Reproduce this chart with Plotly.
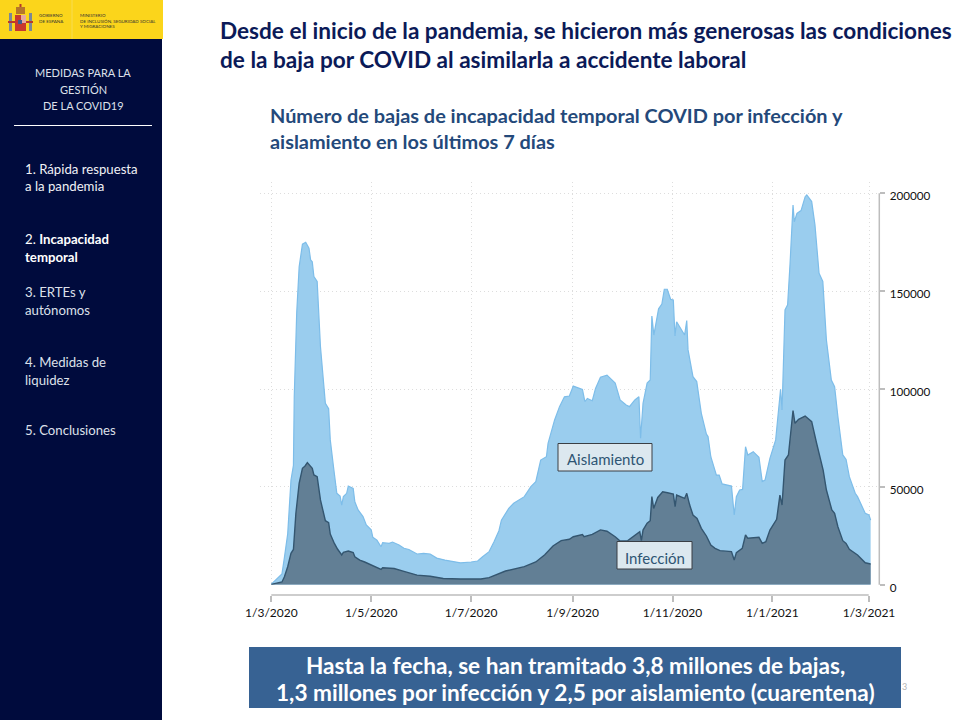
import pandas as pd
import plotly.graph_objects as go

START = pd.Timestamp("2020-03-01")

# days since 1 Mar 2020 and weekly sick-leave counts
aisl_days = [0,3,6.5,8,10,12,13.5,14,15.5,17,19,21,23,24,25,26,28,30,32,33,35,36,38,40,42,43,44,46,47,50,51,53,56,58,61,62,64.5,67,68,72,74,78,81,84,89,93,97,101,106,111.5,115.5,122,126,129,133,136,139,140.5,143,145,148,154.5,158.5,161.5,164.5,168,169,173,176,179,182,184.4,190,191.5,193,196,198,201,205,210,213,216.7,218.7,222,224.5,225.5,227,229.5,231.4,232.4,233.6,236.5,238.5,240,241.8,243.9,245.5,246.5,247.5,252.4,253.7,254.5,257.5,259.8,262.6,265.7,266.7,268.4,271.8,273.5,275.3,281,282.7,284,286,287.8,289.6,291,294.3,297.8,299.8,301.5,304.5,308,311,311.9,313.7,315.3,316.8,318.6,319.4,321,323.5,326,327,330,332,334.5,336.8,339,342,344,346,349,351,353,356.6,358,362.7,365,366]
aisl_vals = [300,2700,5500,14000,26000,53500,61000,96000,139000,162500,174000,175000,172000,166000,165000,157500,155000,121700,101000,92700,90000,74000,60000,46700,45300,40700,45000,46700,50400,49200,42400,38200,34800,30500,28000,24200,22800,19400,21500,21100,21800,20300,18600,18000,15700,16000,15700,13600,12600,11800,11200,11600,12100,14300,16900,22000,27600,33000,36500,39000,41600,45000,50100,52700,63700,65400,72200,84200,91000,96000,96400,101500,99800,93500,95200,94000,100300,106000,107100,103000,94400,91800,91000,94400,96000,74800,92700,103000,104600,137300,127600,141000,143400,151000,151000,145800,145500,127100,134400,127600,135000,120000,106300,103800,87600,77000,75700,65400,56000,56000,51500,50400,35600,45000,48400,48700,70500,66300,68000,65100,52700,53500,64600,74000,99900,89300,140400,143000,164300,194000,185500,189800,191200,198300,199200,195800,183900,159200,155000,125000,104600,101200,85900,66300,64000,55200,46700,45000,36500,35600,33000]

inf_days = [0,6.5,8,10,12,13.5,15,17,19,20.6,22,25,26,28,30,32,33,35,36,38.5,40.5,43,44,47,50,51,54,57,61,63.5,67,68,75,81,89,97,105,115.5,128,133,138,143,154.5,161.5,167,172,177,182,184.4,190,191,196,201,205,210,213,217.7,222,225,226,227,229.5,231.4,232.4,233.5,236,239,242,245.5,246.6,247.5,252.4,253.7,255.5,257.5,260,262.6,265.7,268.4,271,274,281,282.7,284,287.6,289.6,291,297.8,299.8,302,304.5,308.6,310.6,311.9,313.7,315.8,317.4,318.6,319.8,322,326,330,333,335.8,337,339,342.3,344,346,349,351,353,358,362.7,366]
inf_vals = [200,1400,4100,9200,16000,18000,36500,51800,59500,60700,62400,59500,56100,55200,43300,36500,32700,31700,25900,21100,18100,15200,16500,17200,16400,14300,12600,11600,10000,9200,7800,8700,8300,6800,4900,4300,3200,2900,2900,3600,5500,7000,9200,11600,15300,19800,22500,23200,24500,25600,24500,25700,28000,27300,24500,22300,22500,25200,27100,22500,27900,31400,32700,45000,39000,44600,47500,47000,46300,39900,45800,44100,46700,40700,35600,33900,28800,24900,20300,18600,17400,16900,12600,16400,18600,25400,23700,24200,21100,22000,27900,33400,45800,40700,63700,66300,79100,89000,82500,84500,86200,83300,72300,62000,58600,48400,38200,36500,29600,22500,21100,18100,15200,11200,10600]

x_tick_dates = ["2020-03-01","2020-05-01","2020-07-01","2020-09-01","2020-11-01","2021-01-01","2021-03-01"]
x_tick_text = ["1/3/2020","1/5/2020","1/7/2020","1/9/2020","1/11/2020","1/1/2021","1/3/2021"]
y_ticks = [0,50000,100000,150000,200000]

W, H = 960, 720
def px(x): return x / W
def py(y): return 1 - y / H
def to_dates(days): return [START + pd.Timedelta(hours=d * 24) for d in days]

NAVY = "#000B3D"
FONT = "Lato"
AXIS = "#BDBDBD"
GRID = "#DDDDDD"

fig = go.Figure()
fig.add_trace(go.Scatter(x=to_dates(aisl_days), y=aisl_vals, mode="lines", fill="tozeroy",
                         fillcolor="#9ACDEE", line=dict(color="#7DBDE9", width=1.2), name="Aislamiento"))
fig.add_trace(go.Scatter(x=to_dates(inf_days), y=inf_vals, mode="lines", fill="tozeroy",
                         fillcolor="#627F95", line=dict(color="#345670", width=1.4), name="Infección"))

def rect(x0, x1, y0, y1, color, layer="above", line=None):
    return dict(type="rect", xref="paper", yref="paper", x0=px(x0), x1=px(x1), y0=py(y1), y1=py(y0),
                fillcolor=color, line=line or dict(width=0), layer=layer)
def seg(x0, y0, x1, y1, color, width):
    return dict(type="line", xref="paper", yref="paper", x0=px(x0), x1=px(x1), y0=py(y0), y1=py(y1),
                line=dict(color=color, width=width))

BOX_LINE = dict(color="#3A3F45", width=1)
shapes = [
    rect(0, 162, 0, 720, NAVY, "below"),
    rect(0, 163, 0, 39, "#FBD51B", "below"),
    seg(72, 0, 72, 39, "#F5E27A", 0.6),
    seg(14, 125.5, 152, 125.5, "white", 1),
    rect(249, 901, 647, 708, "#376293", "below"),
    # drawn x and y axis lines
    seg(271.3, 595, 868.7, 595, AXIS, 1.5),
    seg(879.3, 193.3, 879.3, 584.7, AXIS, 1.5),
    # label boxes
    rect(558, 652, 443.5, 471, "#DCE8EF", line=BOX_LINE),
    rect(617, 692, 541.5, 569, "#DCE8EF", line=BOX_LINE),
    # coat of arms, simplified
    rect(15, 26, 15, 31, "#C8382E"),
    rect(21, 26, 15, 23, "#E7A9A0"),
    rect(18, 22, 20, 24, "#3E5C8F"),
    rect(9, 12, 13, 31, "#7B8797"),
    rect(29, 32, 13, 31, "#7B8797"),
    rect(8, 15, 21, 23, "#B93A2E"),
    rect(26, 33, 21, 23, "#B93A2E"),
    rect(16, 25, 7, 14, "#B5762A"),
    rect(19.5, 21.5, 4, 7, "#B5392C"),
]

def note(x, y, text, size, color, anchor="left", bold=False, **kw):
    return dict(x=px(x), y=py(y), xref="paper", yref="paper", text=f"<b>{text}</b>" if bold else text,
                showarrow=False, xanchor=anchor, yanchor="middle", align="center" if anchor == "center" else anchor,
                font=dict(family=FONT, size=size, color=color), **kw)

MENU = "#DDE0EA"
ann = [
    note(218, 31, "Desde el inicio de la pandemia, se hicieron más generosas las condiciones", 22.6, "#0B1A58", bold=True),
    note(218, 59, "de la baja por COVID al asimilarla a accidente laboral", 22.6, "#0B1A58", bold=True),
    note(268, 115, "Número de bajas de incapacidad temporal COVID por infección y", 19.9, "#24497A", bold=True),
    note(268, 141, "aislamiento en los últimos 7 días", 19.9, "#24497A", bold=True),
    note(83, 73, "MEDIDAS PARA LA", 11, MENU, "center"),
    note(83, 89, "GESTIÓN", 11, MENU, "center"),
    note(83, 105, "DE LA COVID19", 11, MENU, "center"),
    note(23, 169, "1. Rápida respuesta", 13.2, "#F0F1F6"),
    note(23, 186, "a la pandemia", 13.2, "#F0F1F6"),
    note(23, 239, "2. <b>Incapacidad</b>", 13.2, "#FFFFFF"),
    note(23, 257, "<b>temporal</b>", 13.2, "#FFFFFF"),
    note(23, 292, "3. ERTEs y", 13.2, MENU),
    note(23, 310, "autónomos", 13.2, MENU),
    note(23, 362, "4. Medidas de", 13.2, MENU),
    note(23, 380, "liquidez", 13.2, MENU),
    note(23, 430, "5. Conclusiones", 13.2, MENU),
    note(605, 459.5, "Aislamiento", 15, "#2F5573", "center"),
    note(654.5, 557.5, "Infección", 15, "#2F5573", "center"),
    note(575, 665, "Hasta la fecha, se han tramitado 3,8 millones de bajas,", 22.6, "white", "center", bold=True),
    note(575, 692, "1,3 millones por infección y 2,5 por aislamiento (cuarentena)", 22.6, "white", "center", bold=True),
    note(37, 15, "GOBIERNO", 4.5, "#333"),
    note(37, 21.5, "DE ESPAÑA", 4.5, "#333"),
    note(78, 15, "MINISTERIO", 4.5, "#333"),
    note(78, 21, "DE INCLUSIÓN, SEGURIDAD SOCIAL", 4.5, "#333"),
    note(78, 27, "Y MIGRACIONES", 4.5, "#333"),
    note(900, 686, "3", 9, "#B5B5B5"),
]

fig.update_layout(
    width=W, height=H, autosize=False, margin=dict(l=0, r=0, t=0, b=0, autoexpand=False),
    paper_bgcolor="white", plot_bgcolor="white", showlegend=False,
    shapes=shapes, annotations=ann,
    xaxis=dict(
        type="date", domain=[px(260), px(879.3)],
        range=[pd.Timestamp("2020-02-23 02:00"), pd.Timestamp("2021-03-07 07:00")],
        anchor="free", position=py(595), tickmode="array", tickvals=x_tick_dates, ticktext=x_tick_text,
        ticks="outside", ticklen=6, tickcolor=AXIS, tickwidth=1.5, showline=False, ticklabelstandoff=1,
        showgrid=True, gridcolor=GRID, griddash="1px,3px", gridwidth=1, zeroline=False,
        tickfont=dict(family=FONT, size=12, color="#111"), tickangle=0,
    ),
    yaxis=dict(
        domain=[py(584.7), py(182)], range=[0, 205800], side="right", anchor="free", position=px(879.3),
        tickmode="array", tickvals=y_ticks, ticktext=[str(v) for v in y_ticks],
        ticks="outside", ticklen=5, tickcolor=AXIS, tickwidth=1.5, showline=False,
        showgrid=True, gridcolor=GRID, griddash="1px,3px", gridwidth=1, zeroline=False,
        ticklabelstandoff=2, ticklabelshift=3,
        tickfont=dict(family=FONT, size=11.7, color="#111"),
    ),
)

fig.write_html("out.html", post_script="document.body.style.margin='0';", config=dict(displayModeBar=False))
